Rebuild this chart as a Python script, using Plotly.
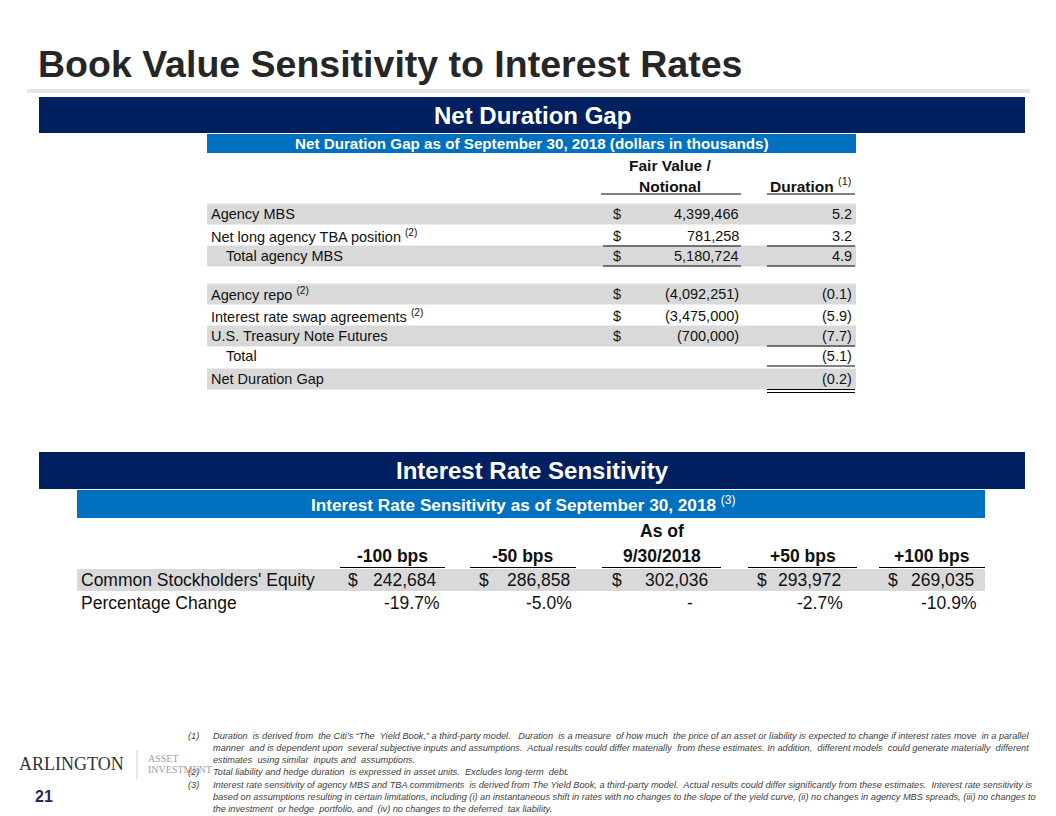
import plotly.graph_objects as go

# ---------------- data ----------------
title_text = "Book Value Sensitivity to Interest Rates"
sec1_title = "Net Duration Gap"
sec1_sub = "Net Duration Gap as of September 30, 2018 (dollars in thousands)"
sec2_title = "Interest Rate Sensitivity"
sec2_sub = "Interest Rate Sensitivity as of September 30, 2018"

ndg_labels = ["Agency MBS", "Net long agency TBA position", "Total agency MBS",
              "Agency repo", "Interest rate swap agreements", "U.S. Treasury Note Futures",
              "Total", "Net Duration Gap"]
ndg_notes = ["", "(2)", "", "(2)", "(2)", "", "", ""]
ndg_indent = [False, False, True, False, False, False, True, False]
ndg_fair_value = [4399466, 781258, 5180724, -4092251, -3475000, -700000, None, None]
ndg_duration = [5.2, 3.2, 4.9, -0.1, -5.9, -7.7, -5.1, -0.2]

irs_scenarios = ["-100 bps", "-50 bps", "9/30/2018", "+50 bps", "+100 bps"]
irs_equity = [242684, 286858, 302036, 293972, 269035]
irs_pct_change = [-19.7, -5.0, None, -2.7, -10.9]
irs_row_labels = ["Common Stockholders' Equity", "Percentage Change"]

footnotes = [
    ("(1)", ["Duration  is derived from  the Citi\u2019s \u201cThe  Yield Book,\u201d a third-party model.   Duration  is a measure  of how much  the price of an asset or liability is expected to change if interest rates move  in a parallel",
             "manner  and is dependent upon  several subjective inputs and assumptions.  Actual results could differ materially  from these estimates. In addition,  different models  could generate materially  different",
             "estimates  using similar  inputs and  assumptions."]),
    ("(2)", ["Total liability and hedge duration  is expressed in asset units.  Excludes long-term  debt."]),
    ("(3)", ["Interest rate sensitivity of agency MBS and TBA commitments  is derived from The Yield Book, a third-party model.  Actual results could differ significantly from these estimates.  Interest rate sensitivity is",
             "based on assumptions resulting in certain limitations, including (i) an instantaneous shift in rates with no changes to the slope of the yield curve, (ii) no changes in agency MBS spreads, (iii) no changes to",
             "the investment  or hedge  portfolio, and  (iv) no changes to the deferred  tax liability."]),
]
page_number = "21"

# ---------------- styles ----------------
NAVY = "#002060"
BLUE = "#0070c0"
BAND = "#d9d9d9"
TXT = "#111111"
SANS = "Liberation Sans, Arial, sans-serif"
SERIF = "Liberation Serif, Times New Roman, serif"

shapes = []
annos = []


def rect(x0, y0, x1, y1, color):
    shapes.append(dict(type="rect", xref="x", yref="y", x0=x0, x1=x1, y0=y0, y1=y1,
                       fillcolor=color, line=dict(width=0), layer="below"))


def hline(x0, x1, y, color="#000000", w=1):
    shapes.append(dict(type="line", xref="x", yref="y", x0=x0, x1=x1, y0=y, y1=y,
                       line=dict(color=color, width=w)))


def text(x, y, s, size, color=TXT, family=SANS, align="left", bold=False, italic=False):
    if bold:
        s = "<b>" + s + "</b>"
    if italic:
        s = "<i>" + s + "</i>"
    annos.append(dict(x=x, y=y, xref="x", yref="y", text=s, showarrow=False,
                      xanchor=align, yanchor="middle", align=align,
                      font=dict(size=size, color=color, family=family)))


def fmt_money(v):
    if v is None:
        return ""
    s = f"{abs(v):,}"
    return f"({s})" if v < 0 else s


def fmt_dur(v):
    s = f"{abs(v):.1f}"
    return f"({s})" if v < 0 else s


# ---------------- title ----------------
text(36, 64, title_text, 37.5, color="#262626", bold=True)
rect(27, 89, 1030, 93, "#e7e6e6")

# ---------------- section 1 ----------------
rect(39, 97, 1025, 133, NAVY)
text(532, 115, sec1_title, 24, color="white", align="center", bold=True)
rect(207, 134, 856, 153, BLUE)
text(531, 143.5, sec1_sub, 15.2, color="white", align="center", bold=True)

F1 = 14.5
FH = 15.5
text(670, 165, "Fair Value /", FH, align="center", bold=True)
text(670, 186, "Notional", FH, align="center", bold=True)
text(853, 185, "<b>Duration</b> <sup>(1)</sup>", FH, align="right")
hline(601, 741, 194)
hline(767, 855, 194)

row_y = [214, 236, 256, 294, 316, 336, 356, 379]
band_rows = [0, 2, 3, 5, 7]
for i in band_rows:
    rect(207, row_y[i] - 10.5, 856, row_y[i] + 10.5, BAND)

for i, lab in enumerate(ndg_labels):
    y = row_y[i]
    lx = 224 if ndg_indent[i] else 209
    s = lab + (f" <sup>{ndg_notes[i]}</sup>" if ndg_notes[i] else "")
    text(lx, y, s, F1)
    if ndg_fair_value[i] is not None:
        text(611, y, "$", F1)
        text(741, y, fmt_money(ndg_fair_value[i]), F1, align="right")
    text(854, y, fmt_dur(ndg_duration[i]), F1, align="right")

# underlines
hline(603, 741, 246)
hline(767, 855, 246)
hline(603, 741, 266)
hline(767, 855, 266)
hline(767, 855, 346)
hline(767, 855, 366)
hline(767, 855, 389.5)
hline(767, 855, 392.5)

# ---------------- section 2 ----------------
rect(39, 452, 1025, 489, NAVY)
text(532, 470, sec2_title, 24, color="white", align="center", bold=True)
rect(77, 490, 985, 518, BLUE)
text(523, 504, "<b>" + sec2_sub + "</b> <sup>(3)</sup>", 17.2, color="white", align="center")

F2 = 17.5
col_l = [340, 470, 602, 748, 879]
col_r = [445, 576, 721, 857, 985]
text((col_l[2] + col_r[2]) / 2, 531, "As of", F2, align="center", bold=True)
for j, sc in enumerate(irs_scenarios):
    cx = (col_l[j] + col_r[j]) / 2
    text(cx, 556, sc, F2, align="center", bold=True)
    hline(col_l[j], col_r[j], 567.5)

rect(77, 569, 985, 591, BAND)
text(79, 580, irs_row_labels[0], F2)
text(79, 603, irs_row_labels[1], F2)
dollar_x = [346, 477, 610, 755, 886]
val_r = [439, 572, 710, 843, 976]
for j, v in enumerate(irs_equity):
    text(dollar_x[j], 580, "$", F2)
    text(val_r[j], 580, f"{v:,}", F2, align="right")
    p = irs_pct_change[j]
    if p is None:
        text(690, 603, "-", F2, align="center")
    else:
        text(val_r[j] + 2, 603, f"{p:.1f}%", F2, align="right")

# ---------------- footnotes ----------------
fy = 735.5
for num, lines in footnotes:
    text(186, fy, num, 9.2, color="#404040", italic=True)
    for ln in lines:
        text(211, fy, ln, 9.2, color="#404040", italic=True)
        fy += 12.3

# ---------------- logo & page number ----------------
text(17, 764, "ARLINGTON", 18, color="#333333", family=SERIF)
shapes.append(dict(type="line", xref="x", yref="y", x0=137, x1=137, y0=750, y1=779,
                   line=dict(color="#cccccc", width=1)))
text(146, 758, "ASSET", 10, color="#a0a0a0", family=SERIF)
text(146, 769, "INVESTMENT", 10, color="#a0a0a0", family=SERIF)
text(33, 796, page_number, 16, color="#1f2a56", bold=True)

# The page body has an 8px margin, so the axes are offset to keep page pixels = data units.
OFF = 8
fig = go.Figure()
fig.update_layout(
    width=1056, height=816,
    margin=dict(l=0, r=0, t=0, b=0),
    paper_bgcolor="white", plot_bgcolor="white",
    xaxis=dict(range=[OFF, 1056 + OFF], visible=False, fixedrange=True),
    yaxis=dict(range=[816 + OFF, OFF], visible=False, fixedrange=True),
    shapes=shapes, annotations=annos, showlegend=False,
)
fig.write_html("out.html")
